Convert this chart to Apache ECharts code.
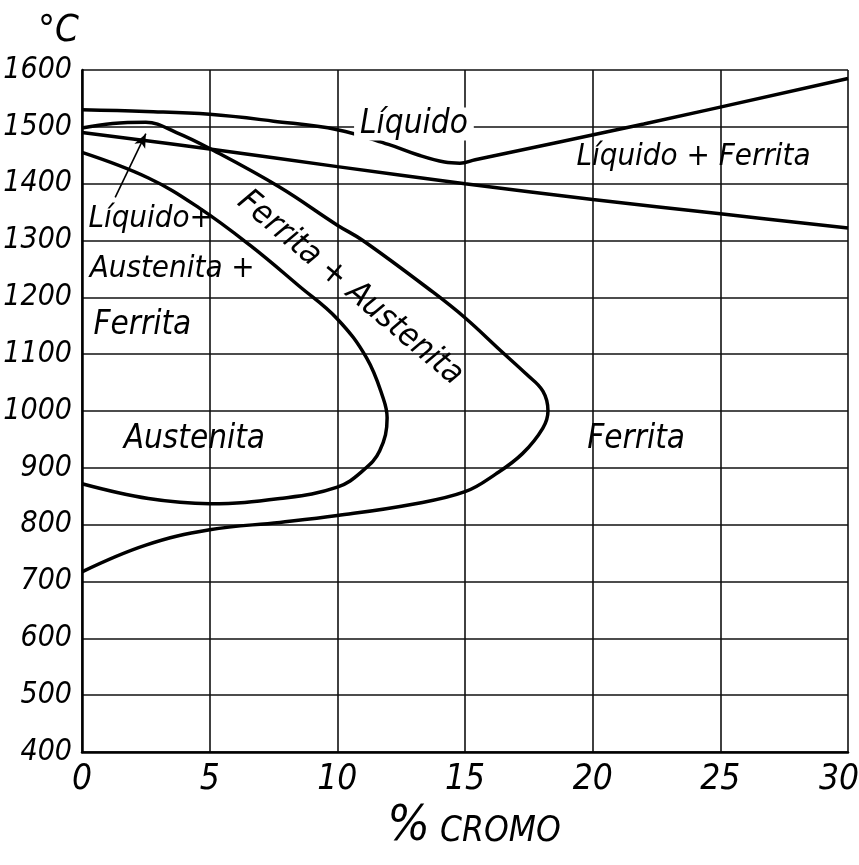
<!DOCTYPE html>
<html>
<head>
<meta charset="utf-8">
<style>
  html, body { margin: 0; padding: 0; background: #fff; }
  #chart { width: 859px; height: 865px; }
</style>
<script src="https://cdn.jsdelivr.net/npm/echarts@6.0.0/dist/echarts.min.js"></script>
</head>
<body>
<div id="chart"></div>
<script>
// % Cr vs temperature (°C)
const liquidus = [[0,1530],[2.5,1527],[5,1522],[7.5,1510],[10,1495],[12,1469],[13.2,1450],[14.2,1438],[14.8,1436],[15.4,1442],[22,1505],[30,1585]];
const solidus = [[0,1490],[5,1461],[10,1430],[15,1400],[20,1372],[25,1347],[30,1322]];
const outerLoop = [[0,1498],[1.2,1506],[2.5,1508],[3.7,1490],[5,1462],[7.7,1395],[10,1327],[11,1300],[13.75,1209],[15,1164],[16.4,1106],[17.4,1065],[18.05,1035],[18.25,1000],[18.05,970],[17.25,925],[16.2,889],[15,858],[12.95,836],[10,816],[7.75,804],[5,791],[2.5,764],[0,717]];
const innerLoop = [[0,1455],[2.6,1410],[4.6,1357],[6.6,1291],[8.5,1220],[10,1162],[11.15,1093],[11.8,1022],[11.95,988],[11.66,930],[11,895],[10,866],[7.75,846],[5,837],[2.6,846],[0,872]];
const arrowFrom = [1.3, 1376];
const arrowTo = [2.5, 1488];

// region names and where they sit (data coords)
const regionNames = ['Líquido', 'Líquido + Ferrita', 'Líquido+', 'Austenita +', 'Ferrita', 'Austenita', 'Ferrita', 'Ferrita + Austenita'];
const regionSpots = [[13.0,1505],[23.95,1447],[0.25,1338],[0.3,1250],[0.45,1150],[4.4,950],[21.7,950],[10.5,1216]];

const xMin = 0, xMax = 30, xStep = 5;
const yMin = 400, yMax = 1600, yStep = 100;

const font = "'DejaVu Sans Condensed', 'DejaVu Sans', sans-serif";
const ink = '#000';

const chart = echarts.init(document.getElementById('chart'));

function curve(data) {
    return {
        type: 'line',
        data: data,
        smooth: 0.4,
        symbol: 'none',
        silent: true,
        lineStyle: { color: ink, width: 3.5 },
        z: 5
    };
}

function labelStyle(i) {
    const base = {
        show: true,
        formatter: regionNames[i],
        position: [0, 0],
        color: ink,
        opacity: 1,
        textBorderWidth: 0,
        fontFamily: font,
        fontStyle: 'italic',
        fontSize: 33,
        verticalAlign: 'middle',
        align: 'center'
    };
    if (i >= 2 && i <= 4) base.align = 'left';
    if (i === 0) { base.backgroundColor = '#fff'; base.padding = [0, 6]; }
    if (i === 1 || i === 2 || i === 3) base.fontSize = 31;
    if (i === 7) base.rotate = -40;
    return base;
}

const labelPoints = regionSpots.map((p, i) => ({ value: p, label: labelStyle(i) }));

const option = {
    animation: false,
    backgroundColor: '#fff',
    grid: { left: 82, right: 11, top: 70, bottom: 113, outerBoundsMode: 'none' },
    xAxis: {
        type: 'value',
        min: xMin, max: xMax, interval: xStep,
        name: '{p|%}{c|CROMO}',
        nameLocation: 'middle',
        nameGap: 44,
        nameTextStyle: {
            rich: {
                p: { fontFamily: font, fontStyle: 'italic', fontSize: 50, color: ink, padding: [0, 0, 0, 18] },
                c: { fontFamily: font, fontStyle: 'italic', fontSize: 35, color: ink, padding: [10, 0, 0, 10] }
            }
        },
        axisLine: { show: true, onZero: false, lineStyle: { color: ink, width: 2.5 } },
        axisTick: { show: false },
        axisLabel: {
            margin: 10, color: ink, fontFamily: font, fontStyle: 'italic', fontSize: 35,
            formatter: v => v === xMax ? '{e|' + v + '}' : String(v),
            rich: { e: { fontFamily: font, fontStyle: 'italic', fontSize: 35, color: ink, padding: [0, 18, 0, 0] } }
        },
        splitLine: { show: true, lineStyle: { color: '#111', width: 1.6 } }
    },
    yAxis: {
        type: 'value',
        min: yMin, max: yMax, interval: yStep,
        axisLine: { show: true, onZero: false, lineStyle: { color: ink, width: 2.5 } },
        axisTick: { show: false },
        axisLabel: { margin: 10, color: ink, fontFamily: font, fontStyle: 'italic', fontSize: 30, formatter: v => String(v) },
        splitLine: { show: true, lineStyle: { color: '#111', width: 1.6 } }
    },
    graphic: [{
        type: 'text',
        left: 38, top: 12,
        style: { text: '°C', fill: ink, font: 'italic 38px ' + font }
    }],
    series: [
        curve(liquidus),
        curve(solidus),
        curve(outerLoop),
        curve(innerLoop),
        {
            type: 'line',
            data: [],
            silent: true,
            markLine: {
                silent: true,
                symbol: ['none', 'arrow'],
                symbolSize: [9, 14],
                label: { show: false },
                lineStyle: { color: ink, width: 1.6, type: 'solid' },
                data: [[{ coord: arrowFrom }, { coord: arrowTo }]]
            },
            z: 6
        },
        {
            type: 'scatter',
            data: labelPoints,
            symbolSize: 0,
            itemStyle: { color: ink, opacity: 1 },
            silent: true,
            z: 10
        }
    ]
};

chart.setOption(option);
</script>
</body>
</html>
